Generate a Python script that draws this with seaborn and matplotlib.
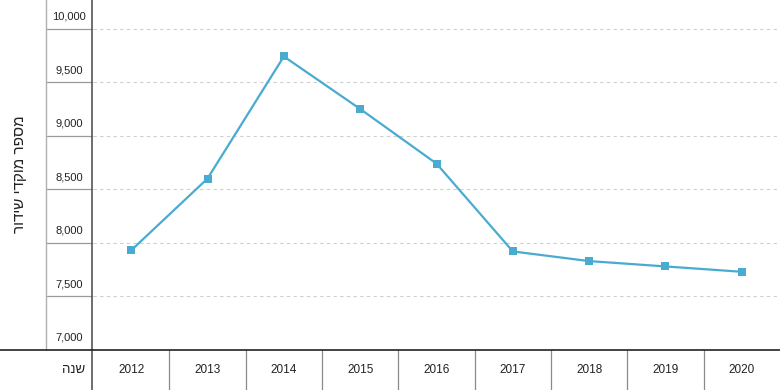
import matplotlib
matplotlib.use("Agg")
import matplotlib.pyplot as plt
import matplotlib.transforms as mtransforms
import pandas as pd
import seaborn as sns

# data
years = ["2012", "2013", "2014", "2015", "2016", "2017", "2018", "2019", "2020"]
counts = [7930, 8600, 9740, 9250, 8740, 7920, 7830, 7780, 7730]
y_ticks = [7000, 7500, 8000, 8500, 9000, 9500, 10000]
y_label = "מספר מוקדי שידור"
x_label = "שנה"

LINE_COLOR = "#4aabd1"

sns.set_theme(style="white")
plt.rcParams["font.family"] = ["Liberation Sans", "DejaVu Sans"]


def rtl(s):
    # matplotlib has no bidi support, so flip Hebrew text by hand
    return s[::-1]


df = pd.DataFrame({"pos": range(len(years)), "count": counts})

W, H = 780, 390
fig = plt.figure(figsize=(W / 100, H / 100), dpi=100)
left, bottom = 93, 40
ax = fig.add_axes([left / W, bottom / H, (W - left) / W, (H - bottom) / H])

sns.lineplot(data=df, x="pos", y="count", ax=ax, color=LINE_COLOR, linewidth=1.6,
             marker="s", markersize=5.5, markeredgewidth=0, markerfacecolor=LINE_COLOR)

ax.set_xlim(-0.5, len(years) - 0.5)
ax.set_ylim(7000, 10267)
ax.set_xticks([])
ax.set_yticks([])
ax.set_xlabel("")
ax.set_ylabel("")
for side in ["top", "right", "left", "bottom"]:
    ax.spines[side].set_visible(False)

# dashed gridlines
for v in y_ticks[1:]:
    ax.axhline(v, color="#cfcfcf", linewidth=0.8, linestyle=(0, (3, 3)), zorder=0)

# left label column: horizontal rules + tick labels
col_tr = mtransforms.blended_transform_factory(fig.transFigure, ax.transData)
for v in y_ticks[1:]:
    ax.plot([46 / W, 92 / W], [v, v], transform=col_tr, color="#9a9a9a",
            linewidth=0.9, clip_on=False)
lbl_tr = col_tr + mtransforms.ScaledTranslation(0, 7 / 100, fig.dpi_scale_trans)
for v in y_ticks:
    ax.text(69 / W, v, f"{v:,}", transform=lbl_tr, ha="center", va="bottom",
            fontsize=8, color="#222222")

# column borders
fig.add_artist(plt.Line2D([46 / W, 46 / W], [bottom / H, 1], color="#b0b0b0", linewidth=1.0))
fig.add_artist(plt.Line2D([92 / W, 92 / W], [0, 1], color="#555555", linewidth=1.2))

# bottom row
fig.add_artist(plt.Line2D([0, 1], [bottom / H, bottom / H], color="#222222", linewidth=1.2))
x_tr = mtransforms.blended_transform_factory(ax.transData, fig.transFigure)
for i, yr in enumerate(years):
    ax.text(i, 20 / H, yr, transform=x_tr, ha="center", va="center",
            fontsize=8.5, color="#222222")
    if i > 0:
        ax.plot([i - 0.5, i - 0.5], [0, bottom / H], transform=x_tr,
                color="#8a8a8a", linewidth=0.9, clip_on=False)

fig.text(85 / W, 20 / H, rtl(x_label), ha="right", va="center", fontsize=9.5, color="#222222")
fig.text(20 / W, (H - 174) / H, rtl(y_label), rotation=90, ha="center", va="center",
         fontsize=11, color="#222222")

fig.savefig("out.png", dpi=100)
